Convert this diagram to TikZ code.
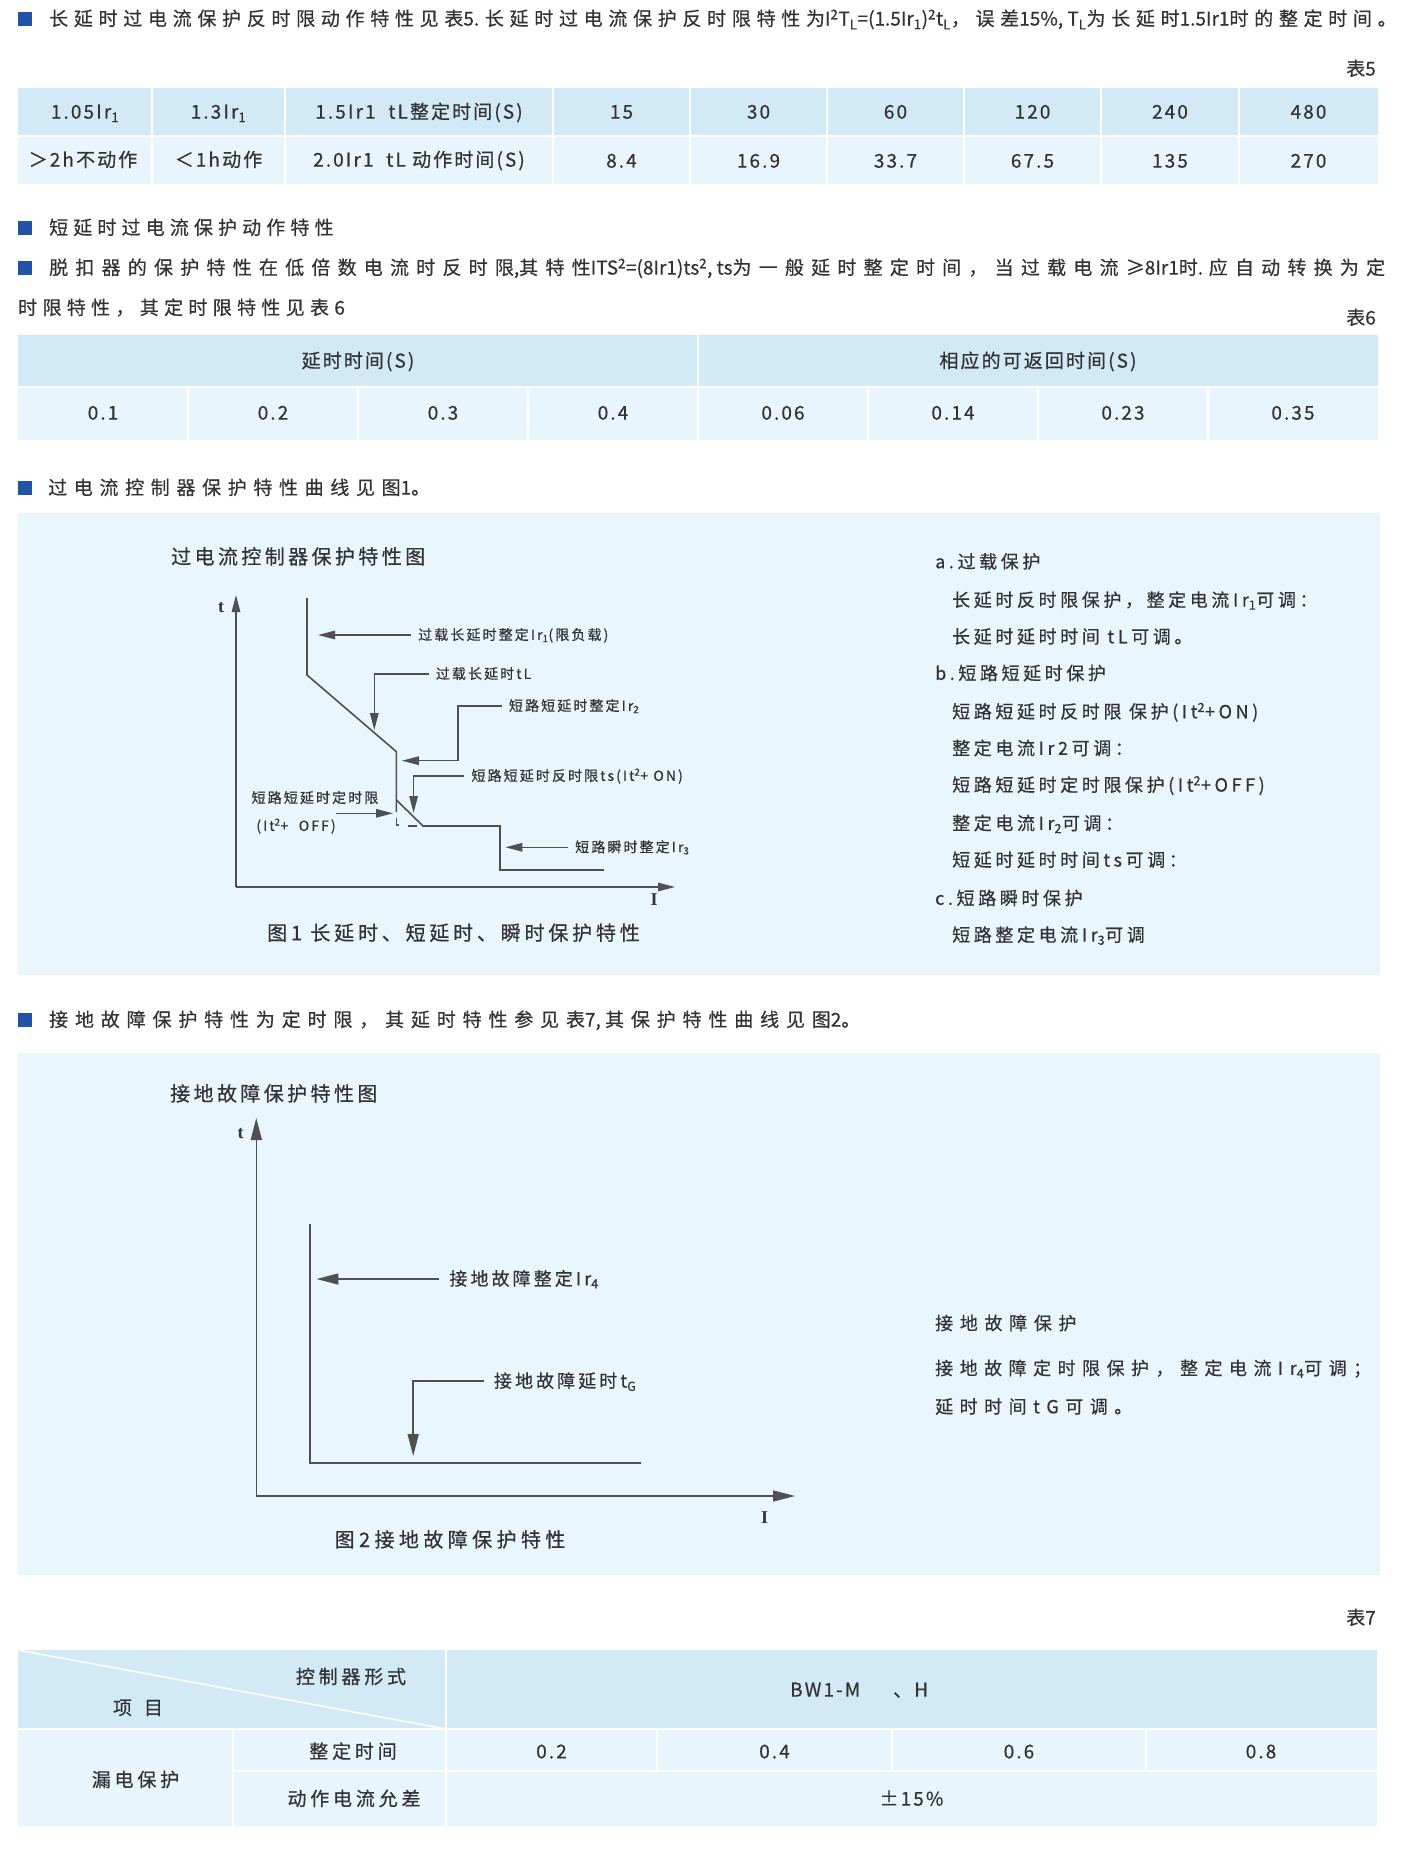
\documentclass[tikz,border=0pt]{standalone}
\usepackage{fontspec}
\setmainfont{Noto Sans CJK SC}[FakeBold=0.5]
\newfontfamily\axfont{Liberation Serif}
\usetikzlibrary{arrows.meta}
\definecolor{hdrblue}{HTML}{D2EAF6}
\definecolor{rowblue}{HTML}{E8F5FC}
\definecolor{figbg}{HTML}{EAF6FD}
\definecolor{bulletblue}{HTML}{2153A8}
\definecolor{txtgray}{HTML}{333333}
\definecolor{linegray}{HTML}{505050}
\newcommand{\ls}[1]{\addfontfeatures{LetterSpace=#1}}
\newcommand{\fs}[1]{\fontsize{#1}{#1}\selectfont}
\newcommand{\lt}[1]{{\addfontfeatures{LetterSpace=0}#1}}

\begin{document}
\begin{tikzpicture}[x=1pt,y=-1pt,
    sec/.style={anchor=west,inner sep=0pt,text=txtgray,text height=15pt,text depth=1.9pt},
    cell/.style={inner sep=0pt,text=txtgray,text height=15.2pt,text depth=1.9pt,font=\fs{19}\ls{11}},
    ttl/.style={anchor=west,inner sep=0pt,text=txtgray,text height=16pt,text depth=2pt,font=\fs{20}\ls{17}},
    lbl/.style={anchor=west,inner xsep=7pt,inner ysep=0pt,text=txtgray,text height=11.2pt,text depth=1.4pt,font=\fs{14}\ls{15}},
    lblg/.style={lbl,inner xsep=10pt,text height=14.4pt,text depth=1.8pt,font=\fs{18}\ls{17}},
    axlbl/.style={inner sep=0pt,text=txtgray,font=\axfont\bfseries\fs{18}},
    sep/.style={draw=white,line width=2pt},
    curve/.style={draw=linegray,line width=1.6pt},
    pt/.style={draw=linegray,line width=1.4pt,-{Triangle[length=17pt,width=8.5pt]}},
    ptg/.style={draw=linegray,line width=1.6pt,-{Triangle[length=22pt,width=11pt]}}]
  \useasboundingbox (0,0) rectangle (1400,1851);
  \fill[white] (0,0) rectangle (1400,1851);

  % long delay
  \fill[bulletblue] (18,12) rectangle (32,26);
  \node[sec,font=\fs{19}\ls{30}] (intro) at (49,19) {长延时过电流保护反时限动作特性见表\lt{5. }长延时过电流保护反时限特性为\lt{I\textsuperscript{2}T\textsubscript{L}=(1.5Ir\textsubscript{1})\textsuperscript{2}t\textsubscript{L}}，误差\lt{15\%, T\textsubscript{L}}为长延时\lt{1.5Ir1}时的整定时间。};
  \node[sec,anchor=east,font=\fs{19}] (tab5) at (1376,69) {表5};

  \fill[hdrblue] (18,88) rectangle (1378,136);
  \fill[rowblue] (18,136) rectangle (1378,184);
  \foreach \x in {152,285,553,690,827,964,1101,1239}
    \draw[sep] (\x,88) -- (\x,184);
  \draw[sep] (18,136) -- (1378,136);
  \node[cell] (a1) at (85,112) {1.05Ir\textsubscript{1}};
  \node[cell] (a2) at (218.5,112) {1.3Ir\textsubscript{1}};
  \node[cell] (a3) at (419,112) {1.5Ir1 \ tL整定时间(S)};
  \node[cell] (b1) at (83,160) {＞2h不动作};
  \node[cell] (b2) at (218.5,160) {＜1h动作};
  \node[cell] (b3) at (419,160) {2.0Ir1 \ tL 动作时间(S)};
  \foreach \cx/\u/\v [count=\i] in {621.5/15/8.4, 758.5/30/16.9, 895.5/60/33.7, 1032.5/120/67.5, 1170/240/135, 1308.5/480/270}{
    \node[cell] (u\i) at (\cx,112) {\u};
    \node[cell] (v\i) at (\cx,161) {\v};
  }

  % short delay
  \fill[bulletblue] (18,221) rectangle (32,235);
  \node[sec,font=\fs{19}\ls{27}] (short) at (49,228) {短延时过电流保护动作特性};
  \fill[bulletblue] (18,261) rectangle (32,275);
  \node[sec,font=\fs{19}\ls{38}] (trip) at (49,268) {脱扣器的保护特性在低倍数电流时反时限\lt{,}其特性\lt{ITS\textsuperscript{2}=(8Ir1)ts\textsuperscript{2}, ts}为一般延时整定时间，当过载电流≥\lt{8Ir1}时\lt{. }应自动转换为定};
  \node[sec,font=\fs{19}\ls{28}] (trip2) at (18,308) {时限特性，其定时限特性见表6};
  \node[sec,anchor=east,font=\fs{19}] (tab6) at (1376,318) {表6};

  \fill[hdrblue] (18,335) rectangle (1378,387);
  \fill[rowblue] (18,387) rectangle (1378,440);
  \draw[sep] (698,335) -- (698,440);
  \draw[sep] (18,387) -- (1378,387);
  \foreach \x in {188,358,528,868,1038,1208}
    \draw[sep] (\x,387) -- (\x,440);
  \node[cell] (d1) at (358,361) {延时时间(S)};
  \node[cell] (d2) at (1038,361) {相应的可返回时间(S)};
  \foreach \cx/\v [count=\i] in {103/0.1, 273/0.2, 443/0.3, 613/0.4, 783/0.06, 953/0.14, 1123/0.23, 1293/0.35}
    \node[cell] (w\i) at (\cx,413) {\v};

  % figure 1
  \fill[bulletblue] (18,481) rectangle (32,495);
  \node[sec,font=\fs{19}\ls{35}] (see1) at (48,488) {过电流控制器保护特性曲线见图\lt{1}。};
  \fill[figbg] (18,513) rectangle (1380,975);
  \node[ttl] (fig1) at (171,557) {过电流控制器保护特性图};

  \coordinate (o1) at (236,887);
  \coordinate (t1top) at (236,595);
  \coordinate (i1end) at (675,887);
  \draw[pt] (o1) -- (t1top);
  \draw[pt] (o1) -- (i1end);
  \node[axlbl] (t1) at (221,608) {t};
  \node[axlbl] (i1) at (654,900) {I};

  \draw[curve] (307,598) -- (307,675) -- (396.4,751.7) -- (396.4,812);
  \draw[curve] (396.4,800) -- (423,826) -- (500,826) -- (500,870) -- (604,870);
  \draw[curve,line width=1.2pt] (396.4,818) -- (396.4,825) -- (399,825);
  \draw[curve,line width=1.2pt] (408,826) -- (417,826);

  \node[lbl] (ir1) at (411,635) {过载长延时整定Ir\textsubscript{1}(限负载)};
  \coordinate (ir1tip) at (318,635);
  \draw[pt] (ir1.west) -- (ir1tip);
  \node[lbl] (tl) at (428.6,674) {过载长延时tL};
  \coordinate (tltip) at (374.3,730);
  \draw[pt] (tl.west) -| (tltip);
  \node[lbl] (ir2) at (501.8,706) {短路短延时整定Ir\textsubscript{2}};
  \coordinate (ir2bend) at (457.9,760.7);
  \coordinate (ir2tip) at (401.8,760.7);
  \draw[pt] (ir2.west) -| (ir2bend) -- (ir2tip);
  \node[lbl] (ts) at (464.3,776) {短路短延时反时限ts(It\textsuperscript{2}+ ON)};
  \coordinate (tstip) at (413.6,813);
  \draw[pt] (ts.west) -| (tstip);
  \node[lbl,anchor=center] (dt) at (315,798) {短路短延时定时限};
  \node[lbl,anchor=center] (dt2) at (296,826) {(It\textsuperscript{2}+ \ OFF)};
  \coordinate (dtstart) at (335.7,813.3);
  \coordinate (dttip) at (393,813.3);
  \draw[pt] (dtstart) -- (dttip);
  \node[lbl] (ir3) at (568,847.3) {短路瞬时整定Ir\textsubscript{3}};
  \coordinate (ir3tip) at (505.4,847.3);
  \draw[pt] (ir3.west) -- (ir3tip);
  \node[ttl,anchor=center,font=\fs{20}\ls{19}] (cap1) at (453.5,933.3) {图1 长延时、短延时、瞬时保护特性};

  \foreach \y/\x/\s [count=\i] in {561.7/935/{a.过载保护},
      600/952/{长延时反时限保护，整定电流Ir\textsubscript{1}可调：},
      636.7/952/{长延时延时时间 tL可调。},
      673.3/935/{b.短路短延时保护},
      711.7/952/{短路短延时反时限 保护(It\textsuperscript{2}+ON)},
      748.3/952/{整定电流Ir2可调：},
      785/952/{短路短延时定时限保护(It\textsuperscript{2}+OFF)},
      823.3/952/{整定电流Ir\textsubscript{2}可调：},
      860/952/{短延时延时时间ts可调：},
      898.3/935/{c.短路瞬时保护},
      935/952/{短路整定电流Ir\textsubscript{3}可调}}
    \node[sec,font=\fs{18}\ls{20}] (r\i) at (\x,\y) {\s};

  % figure 2
  \fill[bulletblue] (18,1013) rectangle (32,1027);
  \node[sec,font=\fs{19}\ls{36}] (see2) at (49,1020) {接地故障保护特性为定时限，其延时特性参见表\lt{7, }其保护特性曲线见图\lt{2}。};
  \fill[figbg] (18,1053) rectangle (1380,1575);
  \node[ttl] (fig2) at (170,1094) {接地故障保护特性图};

  \coordinate (o2) at (256.3,1496);
  \coordinate (t2top) at (256.3,1118);
  \coordinate (i2end) at (795,1496);
  \draw[ptg] (o2) -- (t2top);
  \draw[ptg] (o2) -- (i2end);
  \node[axlbl] (t2) at (240.6,1134) {t};
  \node[axlbl] (i2) at (764.6,1518) {I};

  \draw[curve] (310.1,1224) -- (310.1,1463) -- (640.7,1463);
  \node[lblg] (ir4) at (439.3,1279) {接地故障整定Ir\textsubscript{4}};
  \coordinate (ir4tip) at (316.4,1279);
  \draw[ptg] (ir4.west) -- (ir4tip);
  \node[lblg] (tg) at (483.8,1381.2) {接地故障延时t\textsubscript{G}};
  \coordinate (tgtip) at (413.2,1456);
  \draw[ptg] (tg.west) -| (tgtip);
  \node[ttl,anchor=center,font=\fs{20}\ls{22}] (cap2) at (450,1540) {图2接地故障保护特性};

  \node[sec,font=\fs{18}\ls{37}] (g1) at (935,1323.3) {接地故障保护};
  \node[sec,font=\fs{18}\ls{36}] (g2) at (935,1368.3) {接地故障定时限保护，整定电流Ir\textsubscript{4}可调；};
  \node[sec,font=\fs{18}\ls{36}] (g3) at (935,1406.7) {延时时间tG可调。};

  % table 7
  \node[sec,anchor=east,font=\fs{19}] (tab7) at (1376,1618) {表7};
  \fill[hdrblue] (18,1650) rectangle (1377,1729);
  \fill[rowblue] (18,1729) rectangle (1377,1826);
  \draw[sep] (446,1650) -- (446,1826);
  \draw[sep] (18,1729) -- (1377,1729);
  \draw[sep] (233,1729) -- (233,1826);
  \draw[sep] (233,1771) -- (1377,1771);
  \foreach \x in {657,892,1146}
    \draw[sep] (\x,1729) -- (\x,1771);
  \draw[sep,line width=1.5pt] (18,1650) -- (446,1729);
  \node[cell,font=\fs{19}\ls{20}] (ctl) at (351,1677) {控制器形式};
  \node[cell,font=\fs{19}\ls{20}] (item) at (138,1708) {项\hspace{12pt}目};
  \node[cell,anchor=west] (bw) at (790,1690) {BW1-M};
  \node[cell,anchor=west] (bwh) at (893,1690) {、H};
  \node[cell,font=\fs{19}\ls{20}] (leak) at (135.5,1780) {漏电保护};
  \node[cell,font=\fs{19}\ls{20}] (set) at (353,1751.7) {整定时间};
  \node[cell,font=\fs{19}\ls{20}] (tol) at (354,1799) {动作电流允差};
  \foreach \cx/\v [count=\i] in {551.5/0.2, 774.5/0.4, 1019/0.6, 1261/0.8}
    \node[cell] (z\i) at (\cx,1751.7) {\v};
  \node[cell] (pm) at (911.5,1799) {±15\%};
\end{tikzpicture}
\end{document}
